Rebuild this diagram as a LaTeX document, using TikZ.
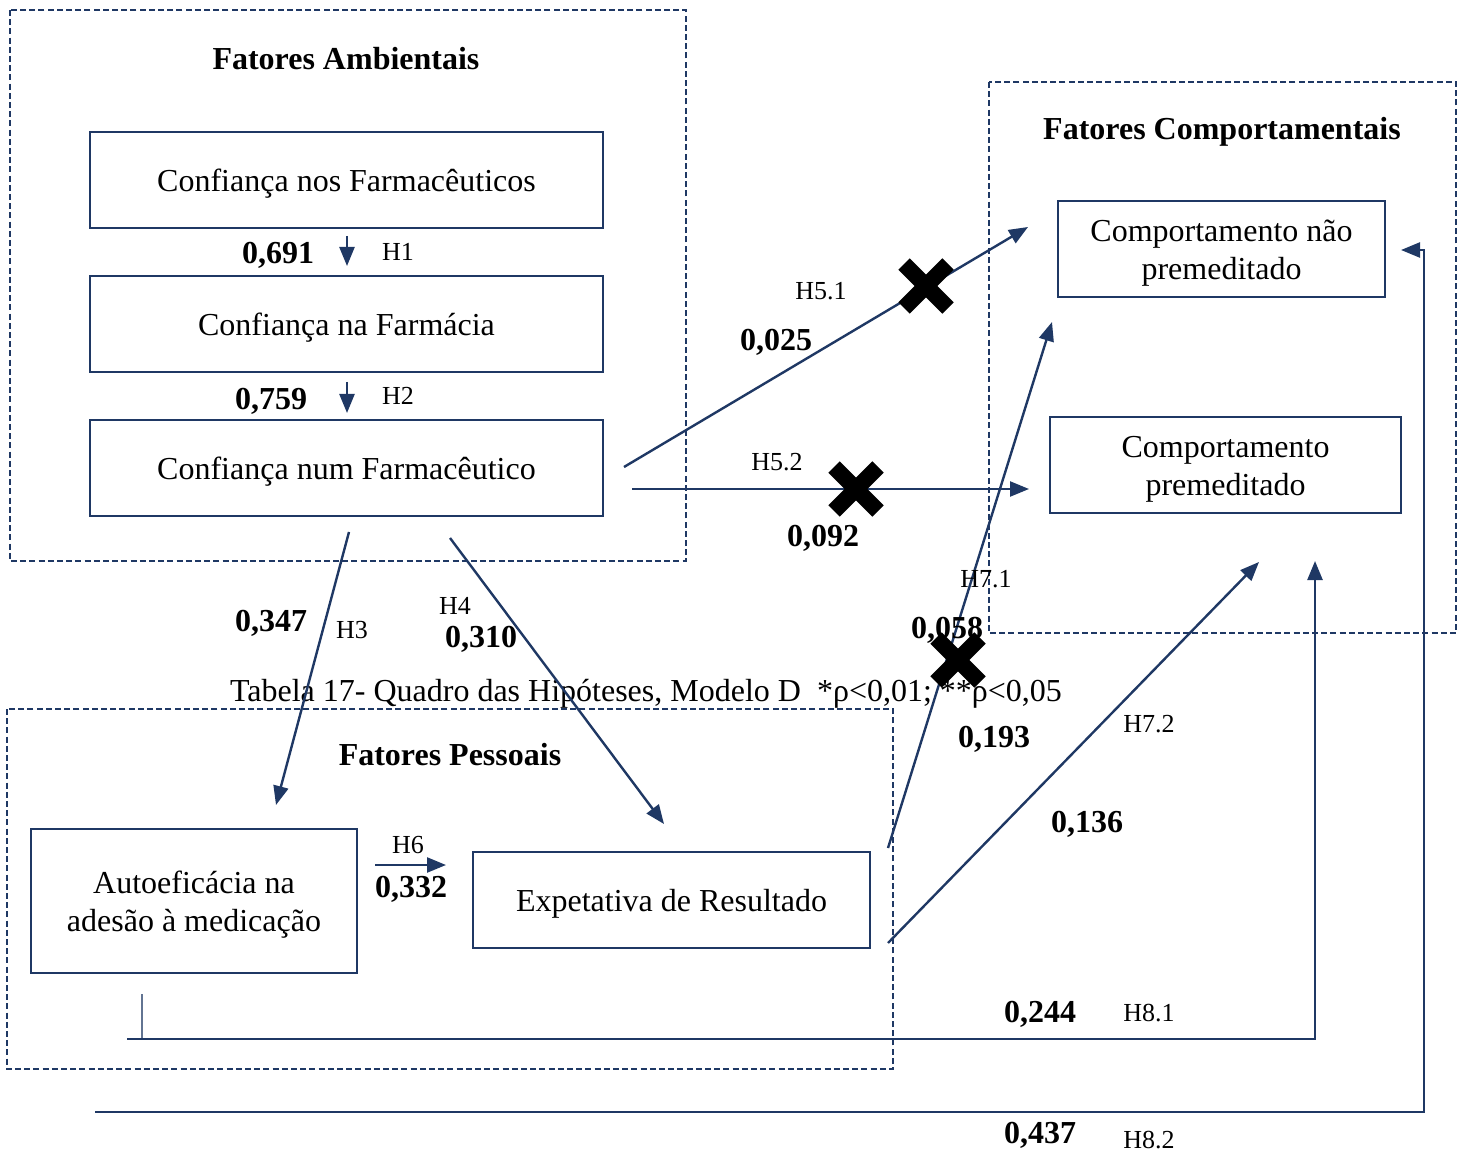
\documentclass[tikz,border=0pt]{standalone}
\usepackage{fontspec}
\setmainfont{Liberation Serif}
\usetikzlibrary{arrows.meta,calc}
\definecolor{navy}{HTML}{1F3864}
\tikzset{
  grp/.style={draw=navy, line width=1.25pt, dash pattern=on 3pt off 1.6pt},
  bx/.style={draw=navy, line width=1.3pt, inner sep=0pt},
  bt/.style={align=center, inner sep=0pt, yshift=-2pt, font=\fontsize{16}{19}\selectfont},
  hd/.style={yshift=-1pt, font=\fontsize{16}{18}\selectfont\bfseries},
  val/.style={yshift=-1.2pt, font=\fontsize{16}{18}\selectfont\bfseries},
  hyp/.style={yshift=-0.8pt, font=\fontsize{13}{15}\selectfont},
  con/.style={draw=navy, line width=1.2pt, -{Triangle[length=9.5pt,width=7.5pt]}},
  pln/.style={draw=navy, line width=1.2pt},
  xmark/.style={line width=8pt, black}
}
\begin{document}
\begin{tikzpicture}[x=0.5pt,y=-0.5pt]
\useasboundingbox (0,0) rectangle (1465,1154);
% group boxes
\draw[grp] (10,10) rectangle (686,561);
\draw[grp] (989,82) rectangle (1456,633);
\draw[grp] (7,709) rectangle (893,1069);
\node[hd] (hA) at (346,57) {Fatores Ambientais};
\node[hd] (hC) at (1222,130) {Fatores Comportamentais};
\node[hd] (hP) at (450,753) {Fatores Pessoais};
% boxes
\node[bx, minimum width=256.5pt, minimum height=48pt] (b1) at (346.5,180) {};
\node[bx, minimum width=256.5pt, minimum height=48pt] (b2) at (346.5,324) {};
\node[bx, minimum width=256.5pt, minimum height=48pt] (b3) at (346.5,468) {};
\node[bx, minimum width=163.5pt, minimum height=48pt] (cnp) at (1221.5,249) {};
\node[bx, minimum width=175.5pt, minimum height=48pt] (cp) at (1225.5,465) {};
\node[bx, minimum width=163pt, minimum height=72pt] (ae) at (194,901) {};
\node[bx, minimum width=198.5pt, minimum height=48pt] (er) at (671.5,900) {};
\node[bt] (tb1) at (b1.center) {Confiança nos Farmacêuticos};
\node[bt] (tb2) at (b2.center) {Confiança na Farmácia};
\node[bt] (tb3) at (b3.center) {Confiança num Farmacêutico};
\node[bt] (tcnp) at (cnp.center) {Comportamento não\\premeditado};
\node[bt] (tcp) at (cp.center) {Comportamento\\premeditado};
\node[bt] (tae) at (ae.center) {Autoeficácia na\\adesão à medicação};
\node[bt] (ter) at (er.center) {Expetativa de Resultado};
% caption
\node[bt] (cap) at (646,690) {Tabela 17- Quadro das Hipóteses, Modelo D\ \ *ρ<0,01; **ρ<0,05};
% coordinates
\coordinate (h1s) at (347,236); \coordinate (h1e) at (347,266);
\coordinate (h2s) at (347,382); \coordinate (h2e) at (347,413);
\coordinate (h51s) at (624,467); \coordinate (h51e) at (1028,227);
\coordinate (h52s) at (632,489); \coordinate (h52e) at (1029,489);
\coordinate (h3s) at (349,532); \coordinate (h3e) at (276,805);
\coordinate (h4s) at (450,538); \coordinate (h4e) at (664,824);
\coordinate (h6s) at (375,865); \coordinate (h6e) at (446,865);
\coordinate (h71s) at (888,848); \coordinate (h71e) at (1052,322);
\coordinate (h72s) at (888,943); \coordinate (h72e) at (1259,562);
\coordinate (t1) at (142,994); \coordinate (t2) at (142,1039);
\coordinate (h81s) at (127,1039); \coordinate (h81c) at (1315,1039); \coordinate (h81e) at (1315,561);
\coordinate (h82s) at (95,1112); \coordinate (h82c) at (1424,1112); \coordinate (h82d) at (1424,250); \coordinate (h82e) at (1401,250);
% connectors
\draw[con] (h1s) -- (h1e);
\draw[con] (h2s) -- (h2e);
\draw[con] (h51s) -- (h51e);
\draw[con] (h52s) -- (h52e);
\draw[con] (h3s) -- (h3e);
\draw[con] (h4s) -- (h4e);
\draw[con] (h6s) -- (h6e);
\draw[con] (h71s) -- (h71e);
\draw[con] (h72s) -- (h72e);
\draw[pln, draw=navy!70] (t1) -- (t2);
\draw[con] (h81s) -- (h81c) -- (h81e);
\draw[con] (h82s) -- (h82c) -- (h82d) -- (h82e);
% X marks
\foreach \n/\cx/\cy in {xa/926/286, xb/856/489, xc/958/660}{
  \coordinate (\n) at (\cx,\cy);
  \draw[xmark] ($(\n)+(-22,-22)$) -- ($(\n)+(22,22)$);
  \draw[xmark] ($(\n)+(-22,22)$) -- ($(\n)+(22,-22)$);
}
% labels
\node[val] (v1) at (278,253) {0,691};
\node[hyp] (l1) at (398,250) {H1};
\node[val] (v2) at (271,399) {0,759};
\node[hyp] (l2) at (398,394) {H2};
\node[hyp] (l51) at (821,290) {H5.1};
\node[val] (v51) at (776,340) {0,025};
\node[hyp] (l52) at (777,460) {H5.2};
\node[val] (v52) at (823,536) {0,092};
\node[val] (v3) at (271,621) {0,347};
\node[hyp] (l3) at (352,628) {H3};
\node[hyp] (l4) at (455,604) {H4};
\node[val] (v4) at (481,637) {0,310};
\node[hyp] (l6) at (408,843) {H6};
\node[val] (v6) at (411,887) {0,332};
\node[hyp] (l71) at (986,578) {H7.1};
\node[val] (v71) at (947,628) {0,058};
\node[val] (v71b) at (994,737) {0,193};
\node[hyp] (l72) at (1149,722) {H7.2};
\node[val] (v72) at (1087,822) {0,136};
\node[val] (v81) at (1040,1012) {0,244};
\node[hyp] (l81) at (1149,1011) {H8.1};
\node[val] (v82) at (1040,1133) {0,437};
\node[hyp] (l82) at (1149,1138) {H8.2};
\end{tikzpicture}
\end{document}
